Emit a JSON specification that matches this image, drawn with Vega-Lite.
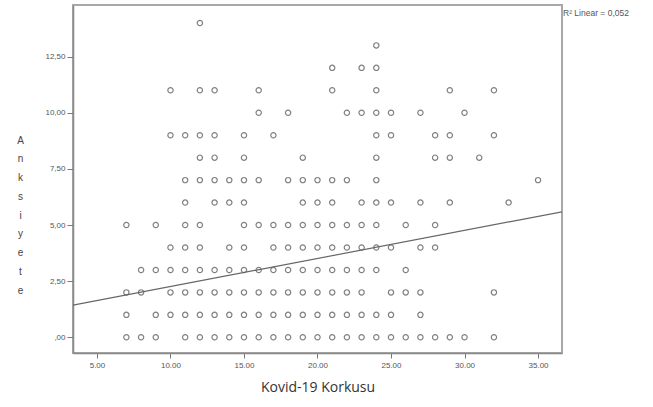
{
  "$schema": "https://vega.github.io/schema/vega-lite/v6.json",
  "width": 489,
  "height": 348,
  "autosize": "none",
  "padding": {"left": 73, "top": 5, "right": 91, "bottom": 54},
  "background": "white",
  "config": {
    "view": {"stroke": "#a8a8a8", "strokeWidth": 2},
    "axis": {"grid": false, "labelFont": "Liberation Sans", "titleFont": "Liberation Sans"}
  },
  "datasets": {
    "pts": [
      {"k":12,"a":14},
      {"k":24,"a":13},
      {"k":21,"a":12},{"k":23,"a":12},{"k":24,"a":12},
      {"k":10,"a":11},{"k":12,"a":11},{"k":13,"a":11},{"k":16,"a":11},{"k":21,"a":11},{"k":24,"a":11},{"k":29,"a":11},{"k":32,"a":11},
      {"k":16,"a":10},{"k":18,"a":10},{"k":22,"a":10},{"k":23,"a":10},{"k":24,"a":10},{"k":25,"a":10},{"k":27,"a":10},{"k":30,"a":10},
      {"k":10,"a":9},{"k":11,"a":9},{"k":12,"a":9},{"k":13,"a":9},{"k":15,"a":9},{"k":17,"a":9},{"k":24,"a":9},{"k":25,"a":9},{"k":28,"a":9},{"k":29,"a":9},{"k":32,"a":9},
      {"k":12,"a":8},{"k":13,"a":8},{"k":15,"a":8},{"k":19,"a":8},{"k":24,"a":8},{"k":28,"a":8},{"k":29,"a":8},{"k":31,"a":8},
      {"k":11,"a":7},{"k":12,"a":7},{"k":13,"a":7},{"k":14,"a":7},{"k":15,"a":7},{"k":16,"a":7},{"k":18,"a":7},{"k":19,"a":7},{"k":20,"a":7},{"k":21,"a":7},{"k":22,"a":7},{"k":24,"a":7},{"k":35,"a":7},
      {"k":11,"a":6},{"k":13,"a":6},{"k":14,"a":6},{"k":15,"a":6},{"k":19,"a":6},{"k":20,"a":6},{"k":21,"a":6},{"k":23,"a":6},{"k":24,"a":6},{"k":25,"a":6},{"k":27,"a":6},{"k":29,"a":6},{"k":33,"a":6},
      {"k":7,"a":5},{"k":9,"a":5},{"k":11,"a":5},{"k":12,"a":5},{"k":15,"a":5},{"k":16,"a":5},{"k":17,"a":5},{"k":18,"a":5},{"k":19,"a":5},{"k":20,"a":5},{"k":21,"a":5},{"k":22,"a":5},{"k":23,"a":5},{"k":24,"a":5},{"k":26,"a":5},{"k":28,"a":5},
      {"k":10,"a":4},{"k":11,"a":4},{"k":12,"a":4},{"k":14,"a":4},{"k":15,"a":4},{"k":17,"a":4},{"k":18,"a":4},{"k":19,"a":4},{"k":20,"a":4},{"k":21,"a":4},{"k":22,"a":4},{"k":23,"a":4},{"k":24,"a":4},{"k":25,"a":4},{"k":27,"a":4},{"k":28,"a":4},
      {"k":8,"a":3},{"k":9,"a":3},{"k":10,"a":3},{"k":11,"a":3},{"k":12,"a":3},{"k":13,"a":3},{"k":14,"a":3},{"k":15,"a":3},{"k":16,"a":3},{"k":17,"a":3},{"k":18,"a":3},{"k":19,"a":3},{"k":20,"a":3},{"k":21,"a":3},{"k":22,"a":3},{"k":23,"a":3},{"k":24,"a":3},{"k":26,"a":3},
      {"k":7,"a":2},{"k":8,"a":2},{"k":10,"a":2},{"k":11,"a":2},{"k":12,"a":2},{"k":13,"a":2},{"k":14,"a":2},{"k":15,"a":2},{"k":16,"a":2},{"k":17,"a":2},{"k":18,"a":2},{"k":19,"a":2},{"k":20,"a":2},{"k":21,"a":2},{"k":22,"a":2},{"k":23,"a":2},{"k":25,"a":2},{"k":26,"a":2},{"k":27,"a":2},{"k":32,"a":2},
      {"k":7,"a":1},{"k":9,"a":1},{"k":10,"a":1},{"k":11,"a":1},{"k":12,"a":1},{"k":13,"a":1},{"k":14,"a":1},{"k":15,"a":1},{"k":16,"a":1},{"k":17,"a":1},{"k":18,"a":1},{"k":19,"a":1},{"k":20,"a":1},{"k":21,"a":1},{"k":22,"a":1},{"k":23,"a":1},{"k":24,"a":1},{"k":25,"a":1},{"k":27,"a":1},
      {"k":7,"a":0},{"k":8,"a":0},{"k":9,"a":0},{"k":11,"a":0},{"k":12,"a":0},{"k":13,"a":0},{"k":14,"a":0},{"k":15,"a":0},{"k":16,"a":0},{"k":17,"a":0},{"k":18,"a":0},{"k":19,"a":0},{"k":20,"a":0},{"k":21,"a":0},{"k":22,"a":0},{"k":23,"a":0},{"k":24,"a":0},{"k":25,"a":0},{"k":26,"a":0},{"k":27,"a":0},{"k":28,"a":0},{"k":29,"a":0},{"k":30,"a":0},{"k":32,"a":0}
    ],
    "fit": [{"k":3.37,"a":1.43},{"k":36.63,"a":5.59}],
    "lab": [{"k":36.7,"a":14.45,"t":"R² Linear = 0,052"}]
  },
  "layer": [
    {
      "data": {"name": "pts"},
      "mark": {"type": "point", "shape": "circle", "filled": false, "size": 28, "stroke": "#6a6a6a", "strokeWidth": 1.2, "opacity": 0.85},
      "encoding": {
        "x": {"field": "k", "type": "quantitative",
          "scale": {"domain": [3.37, 36.63], "nice": false, "zero": false},
          "axis": {"values": [5,10,15,20,25,30,35], "labelExpr": "format(datum.value, '.2f')",
            "title": "Kovid-19 Korkusu", "titleFont": "Open Sans", "titleFontSize": 14, "titleFontWeight": "normal", "titleColor": "#333", "titlePadding": 11,
            "labelFontSize": 8, "labelColor": "#555", "tickColor": "#777", "tickSize": 5, "labelPadding": 3, "domainColor": "#888", "domainWidth": 1.5}},
        "y": {"field": "a", "type": "quantitative",
          "scale": {"domain": [-0.7, 14.8], "nice": false, "zero": false},
          "axis": {"values": [0,2.5,5,7.5,10,12.5], "labelExpr": "datum.value == 0 ? ',00' : replace(format(datum.value, '.2f'), '.', ',')",
            "title": ["A","n","k","s","i","y","e","t","e"], "titleAngle": 0, "titleAlign": "center", "titleBaseline": "middle",
            "titleX": -53, "titleY": 135, "titleLineHeight": 18.75, "titleFontSize": 10, "titleFontWeight": "normal", "titleColor": "#444",
            "labelFontSize": 8, "labelColor": "#555", "tickColor": "#777", "tickSize": 6, "labelPadding": 2, "domainColor": "#888", "domainWidth": 1.5}}
      }
    },
    {
      "data": {"name": "fit"},
      "mark": {"type": "line", "color": "#666", "strokeWidth": 1.2, "clip": true},
      "encoding": {
        "x": {"field": "k", "type": "quantitative"},
        "y": {"field": "a", "type": "quantitative"}
      }
    },
    {
      "data": {"name": "lab"},
      "mark": {"type": "text", "align": "left", "baseline": "middle", "font": "Liberation Sans", "fontSize": 8.5, "color": "#555"},
      "encoding": {
        "x": {"field": "k", "type": "quantitative"},
        "y": {"field": "a", "type": "quantitative"},
        "text": {"field": "t"}
      }
    }
  ]
}
